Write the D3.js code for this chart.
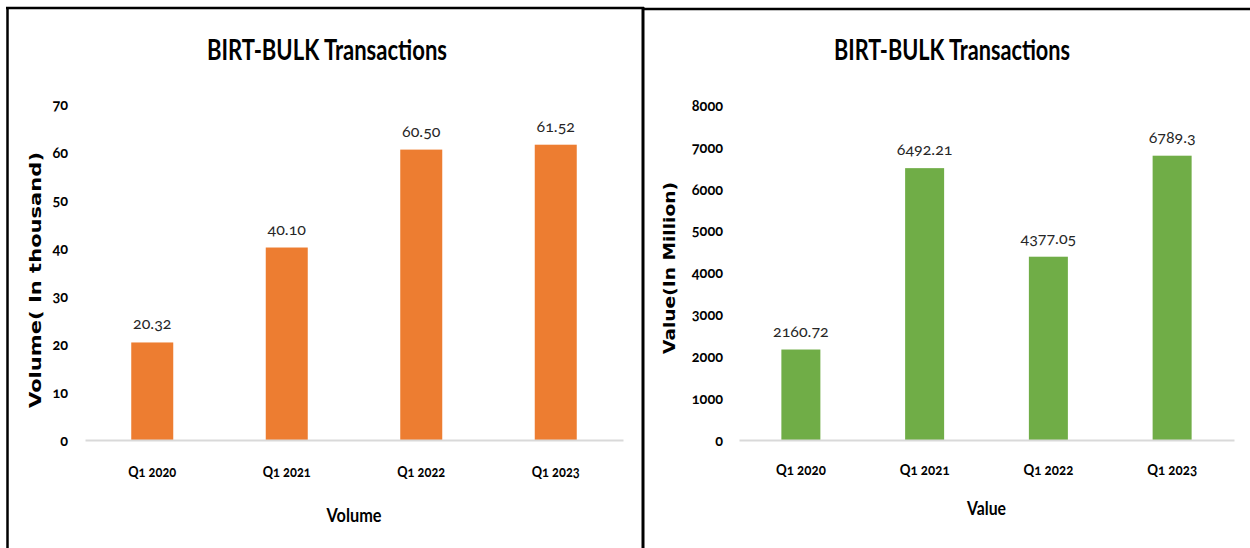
<!DOCTYPE html>
<html><head><meta charset="utf-8">
<script src="https://cdn.jsdelivr.net/npm/d3@7"></script>
<style>
html,body{margin:0;padding:0;background:#fff;}
svg{display:block;}
text{font-family:Lato,"Open Sans",sans-serif;}
.num{font-variant-numeric:oldstyle-nums;font-feature-settings:"onum" 1;}
</style></head>
<body>
<svg id="chart" width="1250" height="548"></svg>
<script>
const categories = ["Q1 2020", "Q1 2021", "Q1 2022", "Q1 2023"];
const volumeValues = [20.32, 40.10, 60.50, 61.52];
const volumeLabels = ["20.32", "40.10", "60.50", "61.52"];
const valueValues = [2160.72, 6492.21, 4377.05, 6789.3];
const valueLabels = ["2160.72", "6492.21", "4377.05", "6789.3"];
const volumeTicks = [0, 10, 20, 30, 40, 50, 60, 70];
const valueTicks = [0, 1000, 2000, 3000, 4000, 5000, 6000, 7000, 8000];
const chartTitle = "BIRT-BULK Transactions";

const svg = d3.select("#chart");

// panel borders
svg.append("line").attr("x1",6).attr("x2",644).attr("y1",8).attr("y2",8).attr("stroke","#000").attr("stroke-width",2.5);
svg.append("line").attr("x1",7.5).attr("x2",7.5).attr("y1",7).attr("y2",548).attr("stroke","#000").attr("stroke-width",2.5);
svg.append("line").attr("x1",643).attr("x2",643).attr("y1",7).attr("y2",548).attr("stroke","#000").attr("stroke-width",3);
svg.append("line").attr("x1",643).attr("x2",1250).attr("y1",9).attr("y2",9).attr("stroke","#000").attr("stroke-width",2.5);

function panel(o){
  const x = d3.scaleBand().domain(categories).range([o.x0, o.x1]).paddingInner(o.pad).paddingOuter(o.pad/2);
  const y = d3.scaleLinear().domain([0, o.ticks[o.ticks.length-1]]).range([440, o.yTop]);
  const g = svg.append("g");

  // title
  g.append("text").attr("x", o.cx).attr("y", 60).attr("text-anchor","middle")
    .attr("font-size",29).attr("font-weight",700).attr("fill","#000")
    .attr("textLength", o.titleLen).attr("lengthAdjust","spacingAndGlyphs")
    .text(chartTitle);

  // y axis (labels only)
  const ya = d3.axisLeft(y).tickValues(o.ticks).tickSize(0).tickPadding(0).tickFormat(d3.format("d"));
  const yg = g.append("g").attr("transform", `translate(${o.tickX},0)`).call(ya);
  yg.select(".domain").remove();
  yg.selectAll("text").attr("class","num").attr("font-size",15).attr("font-weight",700)
    .attr("fill","#000").style("font-family","Lato, sans-serif").attr("dy","0.35em")
    .attr("textLength", d => String(d).length * 7.8).attr("lengthAdjust","spacingAndGlyphs");

  // bars
  g.selectAll("rect.bar").data(o.values).join("rect").attr("class","bar")
    .attr("x",(d,i)=>x(categories[i]) + (x.bandwidth()-o.barW)/2)
    .attr("width", o.barW)
    .attr("y", d=>y(d)).attr("height", d=>440-y(d))
    .attr("fill", o.color);

  // x axis
  const xa = d3.axisBottom(x).tickSize(0).tickPadding(0);
  const xg = g.append("g").attr("transform","translate(0,440)").call(xa);
  xg.select(".domain").attr("stroke","#d9d9d9").attr("stroke-width",2);
  xg.selectAll("text").attr("font-size",16).attr("font-weight",700).attr("fill","#000")
    .style("font-family","Lato, sans-serif").attr("y", o.catY).attr("dy","0")
    .attr("textLength", o.catLen).attr("lengthAdjust","spacingAndGlyphs");
  xg.selectAll(".tick text").attr("class","num");

  // data labels
  g.selectAll("text.lbl").data(o.values).join("text").attr("class","lbl num")
    .attr("x",(d,i)=>x(categories[i]) + x.bandwidth()/2)
    .attr("y", d=>y(d)-13).attr("text-anchor","middle")
    .attr("font-size",16).attr("fill","#262626")
    .text((d,i)=>o.labels[i]);

  // axis titles
  g.append("text").attr("x",(o.x0+o.x1)/2).attr("y",o.xtY).attr("text-anchor","middle")
    .attr("font-size",19).attr("font-weight",700).attr("fill","#000")
    .attr("textLength",o.xtLen).attr("lengthAdjust","spacingAndGlyphs").text(o.xTitle);
  g.append("text").attr("transform",`translate(${o.ytX},${o.ytY}) rotate(-90)`).attr("text-anchor","middle")
    .attr("font-size",16).attr("font-weight",700).attr("fill","#000")
    .style("font-family","'DejaVu Sans', Verdana, sans-serif")
    .attr("textLength",o.ytLen).attr("lengthAdjust","spacingAndGlyphs")
    .text(o.yTitle);
}

panel({x0:85, x1:623, pad:0.69, barW:42, yTop:104, ticks:volumeTicks, values:volumeValues, labels:volumeLabels,
  color:"#ED7D31", cx:327, titleLen:240, tickX:68, catY:37, catLen:48, xtY:522, xtLen:55, xTitle:"Volume",
  ytX:41, ytY:280, ytLen:256, yTitle:"Volume( In thousand)"});
panel({x0:739, x1:1234, pad:0.685, barW:39, yTop:105, ticks:valueTicks, values:valueValues, labels:valueLabels,
  color:"#70AD47", cx:952, titleLen:236, tickX:723, catY:35, catLen:50, xtY:515, xtLen:39, xTitle:"Value",
  ytX:675, ytY:268, ytLen:172, yTitle:"Value(In Million)"});
</script>
</body></html>
